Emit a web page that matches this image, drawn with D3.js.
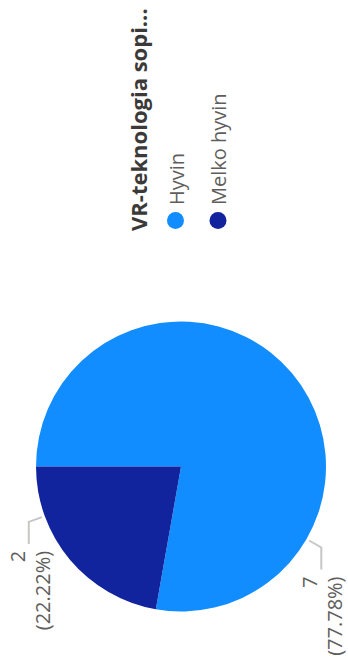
<!DOCTYPE html>
<html>
<head>
<meta charset="utf-8">
<script src="https://cdn.jsdelivr.net/npm/d3@7"></script>
<style>
  html, body { margin: 0; padding: 0; background: #fff; }
  svg { display: block; }
  text { font-family: "Open Sans", "Noto Sans", sans-serif; }
</style>
</head>
<body>
<div id="chart"></div>
<script>
// Responses to the question, and how many answered each way
const categories = ["Hyvin", "Melko hyvin"];
const values = [7, 2];
const percentLabels = ["77.78%", "22.22%"];
const colors = ["#118DFF", "#12239E"];
const legendTitle = "VR-teknologia sopi...";

const W = 348, H = 664;
// The visual is laid out in a 664 x 348 frame and turned a quarter turn counter-clockwise
const FW = 664, FH = 348;

const svg = d3.select("#chart").append("svg")
  .attr("width", W).attr("height", H);

const frame = svg.append("g")
  .attr("transform", `translate(0,${H}) rotate(-90)`);

// ---- pie ----
const cx = 197.5, cy = 181, R = 145;

const pie = d3.pie().sort(null).value(d => d);
const arcs = pie(values);
const arc = d3.arc().innerRadius(0).outerRadius(R);

const pieG = frame.append("g").attr("transform", `translate(${cx},${cy})`);
pieG.selectAll("path.slice")
  .data(arcs)
  .join("path")
  .attr("class", "slice")
  .attr("d", arc)
  .attr("fill", (d, i) => colors[i]);

// ---- leader lines and data labels ----
const polar = (a, r) => [r * Math.sin(a), -r * Math.cos(a)];
const labelG = pieG.append("g");

arcs.forEach((d, i) => {
  const a = d.startAngle + 0.75 * (d.endAngle - d.startAngle);
  const p0 = polar(a, R + 3);
  const p1 = polar(a, R + 17);
  const dir = p1[0] < 0 ? -1 : 1;
  const p2 = [p1[0] + dir * 22, p1[1]];

  labelG.append("path")
    .attr("d", d3.line()([p0, p1, p2]))
    .attr("fill", "none")
    .attr("stroke", "#C8C6C4")
    .attr("stroke-width", 2);

  const t = labelG.append("text")
    .attr("x", p2[0] + dir * 7)
    .attr("y", p2[1] - 4)
    .attr("text-anchor", dir < 0 ? "end" : "start")
    .attr("fill", "#605E5C")
    .attr("font-size", 20);
  t.append("tspan").attr("x", p2[0] + dir * 7).text(values[i]);
  t.append("tspan").attr("x", p2[0] + dir * 7).attr("dy", 25).text(`(${percentLabels[i]})`);
});

// ---- legend ----
const legendX = 433;
const legendG = frame.append("g");

legendG.append("text")
  .attr("x", legendX)
  .attr("y", 147)
  .attr("fill", "#3B3A39")
  .attr("font-size", 22)
  .attr("font-weight", 700)
  .text(legendTitle);

const itemY = d3.scalePoint().domain(categories).range([175.5, 218]);

const items = legendG.selectAll("g.item")
  .data(categories)
  .join("g")
  .attr("class", "item")
  .attr("transform", d => `translate(${legendX + 10.5},${itemY(d)})`);

items.append("circle")
  .attr("r", 8.5)
  .attr("fill", (d, i) => colors[i]);

items.append("text")
  .attr("x", 15.5)
  .attr("y", 8)
  .attr("fill", "#605E5C")
  .attr("font-size", 20)
  .text(d => d);
</script>
</body>
</html>
